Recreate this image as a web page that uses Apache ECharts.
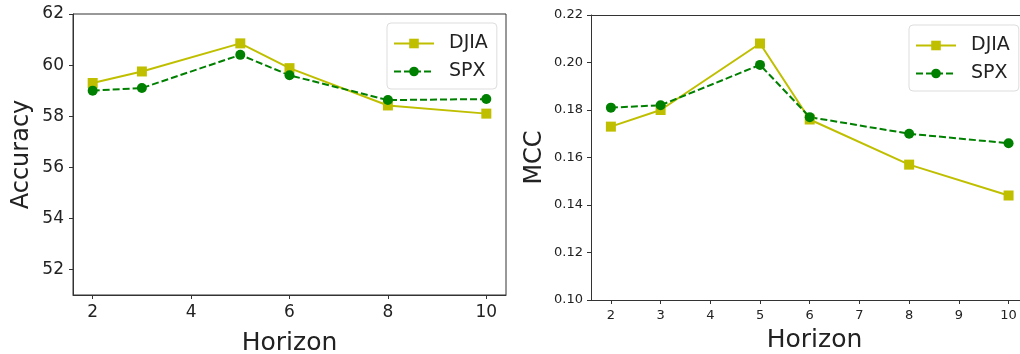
<!DOCTYPE html>
<html>
<head>
<meta charset="utf-8">
<script src="https://cdn.jsdelivr.net/npm/echarts@6/dist/echarts.min.js"></script>
<style>
  html, body { margin: 0; padding: 0; background: #fff; }
  #main { width: 1020px; height: 354px; }
</style>
</head>
<body>
<div id="main"></div>
<script>
// horizons used in both panels
var horizons = [2, 3, 5, 6, 8, 10];

// accuracy (%) by horizon
var accDJIA = [59.3, 59.75, 60.85, 59.88, 58.42, 58.1];
var accSPX = [59.0, 59.1, 60.4, 59.6, 58.63, 58.67];

// MCC by horizon
var mccDJIA = [0.173, 0.180, 0.208, 0.176, 0.157, 0.144];
var mccSPX = [0.181, 0.182, 0.199, 0.177, 0.170, 0.166];

// tick labels
var accXTicks = [2, 4, 6, 8, 10];
var accYTicks = [52, 54, 56, 58, 60, 62];
var mccXTicks = [2, 3, 4, 5, 6, 7, 8, 9, 10];
var mccYTicks = [0.10, 0.12, 0.14, 0.16, 0.18, 0.20, 0.22];

var DJIA_COLOR = '#bfbf00';
var SPX_COLOR = '#008000';
var FONT = 'DejaVu Sans';
var TEXT = '#222';
var AXIS = '#333';

function pairs(xs, ys) {
  return xs.map(function (x, i) { return [x, ys[i]]; });
}

function legendAt(left, top) {
  return {
    orient: 'vertical',
    left: left, top: top,
    padding: [11, 9, 8, 6],
    itemWidth: 40, itemHeight: 12, itemGap: 9,
    borderColor: '#ddd', borderWidth: 1, borderRadius: 4,
    backgroundColor: 'rgba(255,255,255,0.8)',
    textStyle: { fontFamily: FONT, fontSize: 19, color: TEXT, padding: [0, 0, 0, 10] },
    data: ['DJIA', 'SPX']
  };
}

var option = {
  animation: false,
  backgroundColor: '#fff',
  grid: [
    { left: 73, right: 514, top: 14, bottom: 59, outerBoundsMode: 'none', containLabel: false,
      show: true, borderColor: AXIS, borderWidth: 1 },
    { left: 591, right: 0, top: 15, bottom: 54, outerBoundsMode: 'none', containLabel: false }
  ],
  legend: [legendAt(387, 23), legendAt(909, 25)],
  xAxis: [
    {
      type: 'value', gridIndex: 0, min: 1.6, max: 10.4,
      name: 'Horizon', nameLocation: 'middle', nameGap: 36,
      nameTextStyle: { fontFamily: FONT, fontSize: 25, color: TEXT },
      axisLine: { show: true, onZero: false, lineStyle: { color: AXIS, width: 1 } },
      axisTick: { show: true, customValues: accXTicks, length: 4, lineStyle: { color: AXIS } },
      axisLabel: { customValues: accXTicks, fontFamily: FONT, fontSize: 17, color: TEXT, margin: 9 },
      splitLine: { show: false }
    },
    {
      // right panel is cut off by the image edge, so the range stops short of 10.4
      type: 'value', gridIndex: 1, min: 1.6, max: 10.23,
      name: 'Horizon', nameLocation: 'middle', nameGap: 28,
      nameTextStyle: { fontFamily: FONT, fontSize: 25, color: TEXT, padding: [0, 0, 0, 18] },
      axisLine: { show: true, onZero: false, lineStyle: { color: AXIS, width: 1 } },
      axisTick: { show: true, customValues: mccXTicks, length: 4, lineStyle: { color: AXIS } },
      axisLabel: { customValues: mccXTicks, fontFamily: FONT, fontSize: 13, color: TEXT, margin: 9 },
      splitLine: { show: false }
    },
    {
      // top frame line of the right panel
      type: 'value', gridIndex: 1, position: 'top', min: 1.6, max: 10.23,
      axisLine: { show: true, onZero: false, lineStyle: { color: AXIS, width: 1 } },
      axisTick: { show: false }, axisLabel: { show: false }, splitLine: { show: false }
    }
  ],
  yAxis: [
    {
      type: 'value', gridIndex: 0, min: 51, max: 62,
      name: 'Accuracy', nameLocation: 'middle', nameGap: 39,
      nameTextStyle: { fontFamily: FONT, fontSize: 24, color: TEXT },
      axisLine: { show: true, lineStyle: { color: AXIS, width: 1 } },
      axisTick: { show: true, customValues: accYTicks, length: 4, lineStyle: { color: AXIS } },
      axisLabel: { customValues: accYTicks, fontFamily: FONT, fontSize: 17, color: TEXT, margin: 9 },
      splitLine: { show: false }
    },
    {
      type: 'value', gridIndex: 1, min: 0.10, max: 0.22,
      name: 'MCC', nameLocation: 'middle', nameGap: 44,
      nameTextStyle: { fontFamily: FONT, fontSize: 24, color: TEXT },
      axisLine: { show: true, lineStyle: { color: AXIS, width: 1 } },
      axisTick: { show: true, customValues: mccYTicks, length: 4, lineStyle: { color: AXIS } },
      axisLabel: {
        customValues: mccYTicks, fontFamily: FONT, fontSize: 13, color: TEXT, margin: 8,
        formatter: function (v) { return v.toFixed(2); }
      },
      splitLine: { show: false }
    }
  ],
  series: [
    {
      name: 'DJIA', type: 'line', xAxisIndex: 0, yAxisIndex: 0,
      data: pairs(horizons, accDJIA),
      symbol: 'rect', symbolSize: 10,
      itemStyle: { color: DJIA_COLOR },
      lineStyle: { color: DJIA_COLOR, width: 2 }
    },
    {
      name: 'SPX', type: 'line', xAxisIndex: 0, yAxisIndex: 0,
      data: pairs(horizons, accSPX),
      symbol: 'circle', symbolSize: 10,
      itemStyle: { color: SPX_COLOR },
      lineStyle: { color: SPX_COLOR, width: 2, type: [7, 3] }
    },
    {
      name: 'DJIA', type: 'line', xAxisIndex: 1, yAxisIndex: 1,
      data: pairs(horizons, mccDJIA),
      symbol: 'rect', symbolSize: 10,
      itemStyle: { color: DJIA_COLOR },
      lineStyle: { color: DJIA_COLOR, width: 2 }
    },
    {
      name: 'SPX', type: 'line', xAxisIndex: 1, yAxisIndex: 1,
      data: pairs(horizons, mccSPX),
      symbol: 'circle', symbolSize: 10,
      itemStyle: { color: SPX_COLOR },
      lineStyle: { color: SPX_COLOR, width: 2, type: [7, 3] }
    }
  ]
};

var chart = echarts.init(document.getElementById('main'));
chart.setOption(option);
</script>
</body>
</html>
